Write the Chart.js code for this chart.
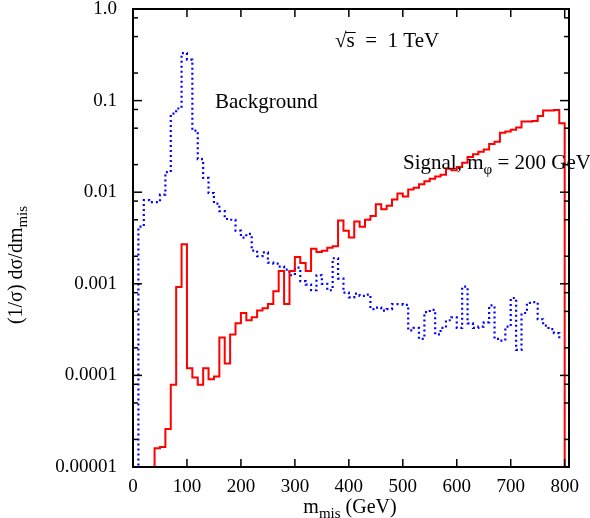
<!DOCTYPE html>
<html><head><meta charset="utf-8">
<script src="https://cdn.jsdelivr.net/npm/chart.js@4.4.0/dist/chart.umd.min.js"></script>
<style>html,body{margin:0;padding:0;background:#fff;}#wrap{width:590px;height:518px;}</style>
</head><body><div id="wrap"><canvas id="c" width="590" height="518"></canvas></div>
<script>
// ---- data (bin lower edges in GeV, 10 GeV bins) ----
const binStarts = [0,10,20,30,40,50,60,70,80,90,100,110,120,130,140,150,160,170,180,190,
  200,210,220,230,240,250,260,270,280,290,300,310,320,330,340,350,360,370,380,390,
  400,410,420,430,440,450,460,470,480,490,500,510,520,530,540,550,560,570,580,590,
  600,610,620,630,640,650,660,670,680,690,700,710,720,730,740,750,760,770,780,790];
const signalEnd = 800;
const signalValues = [0,0,0,0,1.6e-5,1.65e-5,2.6e-5,7.9e-5,0.00092,0.0027,
  0.00012,9.5e-5,7.9e-5,0.00012,9.1e-5,9.7e-5,0.00026,0.000135,0.00028,0.00037,
  0.00048,0.0004,0.00043,0.00051,0.00054,0.0006,0.00083,0.00138,0.0006,0.00138,
  0.00196,0.00169,0.00138,0.00242,0.00222,0.0023,0.00248,0.00257,0.0049,0.0038,
  0.0032,0.0048,0.0042,0.005,0.0055,0.0074,0.0065,0.0071,0.0083,0.0097,
  0.009,0.0107,0.0112,0.0122,0.0132,0.014,0.0148,0.0155,0.018,0.0174,
  0.0189,0.0209,0.0243,0.026,0.0277,0.0293,0.0335,0.0355,0.0446,0.046,
  0.048,0.051,0.059,0.059,0.06,0.068,0.078,0.078,0.079,0.0565];
const backgroundValues = [0,0.0042,0.0082,0.0078,0.0078,0.0094,0.0166,0.072,0.082,0.33,
  0.28,0.047,0.023,0.0143,0.0098,0.0075,0.0062,0.0051,0.005,0.0038,
  0.0032,0.0035,0.0023,0.002,0.0022,0.0017,0.00166,0.00154,0.00143,0.00124,
  0.0015,0.00107,0.00098,0.00085,0.00124,0.001,0.00085,0.0019,0.00114,0.0008,
  0.00071,0.00078,0.00074,0.00076,0.00053,0.00055,0.00051,0.00053,0.0006,0.0006,
  0.00059,0.00031,0.00033,0.00025,0.00049,0.00052,0.00028,0.00033,0.0004,0.00043,
  0.00033,0.00093,0.00037,0.00033,0.00034,0.00038,0.00058,0.00025,0.00024,0.00034,
  0.0007,0.00019,0.00048,0.00062,0.00063,0.00041,0.00035,0.00032,0.00029];
const backgroundEnd = 790;
const backgroundEndValue = 0.00025;
const xTickValues = [0,100,200,300,400,500,600,700,800];
const yTickValues = [1e-5,1e-4,1e-3,1e-2,1e-1,1];
const yTickLabels = ['0.00001','0.0001','0.001','0.01','0.1','1.0'];
const yMinorFactors = [2,5,8];

// empty bins (0) are drawn below the axis floor so the histogram edges rise from the bottom
const FLOOR = 1e-7;
const show = v => (v > 0 ? v : FLOOR);

// ---- build datasets ----
const signalPts = binStarts.map((x,i)=>({x:x,y:show(signalValues[i])}));
signalPts.push({x:signalEnd,y:FLOOR});
const bgPts = backgroundValues.map((v,i)=>({x:binStarts[i],y:show(v)}));
bgPts.push({x:backgroundEnd,y:backgroundEndValue});

const FONT = 'Liberation Serif, Times New Roman, serif';

function drawParts(ctx, parts, x, y, align){
  let w = 0;
  parts.forEach(p=>{ctx.font = p[1]+'px '+FONT; w += ctx.measureText(p[0]).width;});
  let cx = align==='center' ? x - w/2 : x;
  const pos = [];
  parts.forEach(p=>{ctx.font = p[1]+'px '+FONT; ctx.fillText(p[0], cx, y + p[2]); const ww = ctx.measureText(p[0]).width; pos.push([cx, ww]); cx += ww;});
  return pos;
}

const decor = {
  id:'decor',
  afterDatasetsDraw(chart){
    const {ctx, chartArea:a, scales:{x,y}} = chart;
    ctx.save();
    ctx.strokeStyle = '#000';
    ctx.lineWidth = 1.5;
    const seg=(x1,y1,x2,y2)=>{ctx.beginPath();ctx.moveTo(x1,y1);ctx.lineTo(x2,y2);ctx.stroke();};
    xTickValues.forEach(v=>{
      const px = x.getPixelForValue(v);
      seg(px,a.bottom,px,a.bottom-8);
      seg(px,a.top,px,a.top+8);
    });
    yTickValues.forEach((v,i)=>{
      const py = y.getPixelForValue(v);
      seg(a.left,py,a.left+9,py);
      seg(a.right,py,a.right-9,py);
      if(i < yTickValues.length-1){
        yMinorFactors.forEach(m=>{
          const pm = y.getPixelForValue(v*m);
          seg(a.left,pm,a.left+5,pm);
          seg(a.right,pm,a.right-5,pm);
        });
      }
    });
    ctx.lineWidth = 2;
    ctx.strokeRect(a.left,a.top,a.right-a.left,a.bottom-a.top);
    ctx.restore();
  },
  afterDraw(chart){
    const ctx = chart.ctx;
    ctx.save();
    ctx.fillStyle = '#000';
    ctx.strokeStyle = '#000';
    ctx.textBaseline = 'alphabetic';
    ctx.textAlign = 'left';
    // x title
    drawParts(ctx, [['m',20,0],['mis',15,5],[' (GeV)',20,0]], 350, 513, 'center');
    // y title (rotated)
    ctx.save();
    ctx.translate(22, 265);
    ctx.rotate(-Math.PI/2);
    drawParts(ctx, [['(1/\u03C3) d\u03C3/dm',20,0],['mis',15,5]], 0, 0, 'center');
    ctx.restore();
    // annotations
    const p = drawParts(ctx, [['\u221A',21,0],['s',21,0],['  =  1 TeV',21,0]], 335, 47, 'left');
    ctx.lineWidth = 1;
    ctx.beginPath(); ctx.moveTo(p[1][0]-1, 32.5); ctx.lineTo(p[1][0]+p[1][1]+1, 32.5); ctx.stroke();
    drawParts(ctx, [['Background',21,0]], 215, 108, 'left');
    drawParts(ctx, [['Signal, m',21,0],['\u03C6',15,5],[' = 200 GeV',21,0]], 403, 169, 'left');
    ctx.restore();
  }
};

new Chart(document.getElementById('c'), {
  type:'line',
  data:{datasets:[
    {label:'Signal', data:signalPts, borderColor:'#ff0000', borderWidth:2, stepped:'before', pointRadius:0, fill:false, tension:0},
    {label:'Background', data:bgPts, borderColor:'#0000ff', borderWidth:2.2, borderDash:[2,3], stepped:'before', pointRadius:0, fill:false, tension:0}
  ]},
  options:{
    responsive:false, animation:false,
    layout:{padding:{top:9,right:21,left:0,bottom:0}},
    plugins:{legend:{display:false},tooltip:{enabled:false}},
    scales:{
      x:{type:'linear',min:0,max:808,
        grid:{display:false,drawTicks:false},border:{display:false},
        ticks:{color:'#000',font:{family:FONT,size:19},padding:9,autoSkip:false,maxRotation:0,
          callback:(v)=>String(v)},
        afterBuildTicks:(s)=>{s.ticks = xTickValues.map(v=>({value:v}));},
        afterFit:(s)=>{s.height = 51; s.paddingLeft = 0; s.paddingRight = 0;}
      },
      y:{type:'logarithmic',min:1e-5,max:1,
        grid:{display:false,drawTicks:false},border:{display:false},
        ticks:{color:'#000',font:{family:FONT,size:19},padding:16,autoSkip:false,
          callback:(v,i)=>yTickLabels[i]},
        afterBuildTicks:(s)=>{s.ticks = yTickValues.map(v=>({value:v}));},
        afterFit:(s)=>{s.width = 133; s.paddingTop = 0; s.paddingBottom = 0;}
      }
    }
  },
  plugins:[decor]
});
</script></body></html>
